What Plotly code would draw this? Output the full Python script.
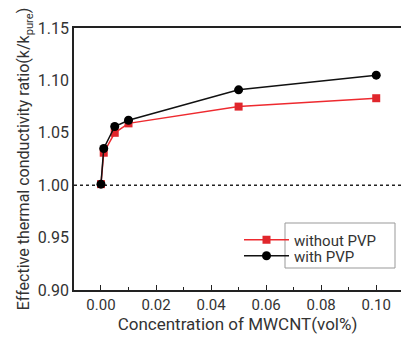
import plotly.graph_objects as go

conc = [0, 0.001, 0.005, 0.01, 0.05, 0.1]
without_pvp = [1.001, 1.031, 1.050, 1.059, 1.075, 1.083]
with_pvp = [1.001, 1.035, 1.056, 1.062, 1.091, 1.105]
names = ["without PVP", "with PVP"]
x_ticks = [0.00, 0.02, 0.04, 0.06, 0.08, 0.10]
y_ticks = [0.90, 0.95, 1.00, 1.05, 1.10, 1.15]

FONT = "Roboto"
TXT = "#333333"
L, T, W, H = 74, 28, 327, 262

fig = go.Figure()
fig.add_trace(go.Scatter(x=conc, y=without_pvp, name=names[0], mode="lines+markers",
                         line=dict(color="#ee2a2f", width=1.5),
                         marker=dict(symbol="square", size=8, color="#e0262c"),
                         legend="legend"))
fig.add_trace(go.Scatter(x=conc, y=with_pvp, name=names[1], mode="lines+markers",
                         line=dict(color="#111111", width=1.5),
                         marker=dict(symbol="circle", size=9, color="#000000"),
                         legend="legend2"))

fig.add_shape(type="line", xref="paper", yref="y", x0=0, x1=1, y0=1.0, y1=1.0,
              line=dict(color="#222222", width=1.5, dash="dot"), layer="below")
# legend box around the text
fig.add_shape(type="rect", xref="paper", yref="paper", x0=(285-L)/W, x1=(395-L)/W,
              y0=(T+H-268)/H, y1=(T+H-223)/H, line=dict(color="#999999", width=1))

leg_common = dict(xanchor="left", yanchor="middle", bgcolor="rgba(0,0,0,0)",
                  font=dict(size=15, color=TXT, family=FONT), itemwidth=45,
                  borderwidth=0)

fig.update_layout(
    width=401, height=340,
    margin=dict(l=L, r=0, t=T, b=340 - T - H),
    paper_bgcolor="white", plot_bgcolor="white",
    font=dict(family=FONT, color=TXT, size=14),
    showlegend=True,
    legend=dict(x=(239-L)/W, y=(T+H-240)/H, **leg_common),
    legend2=dict(x=(239-L)/W, y=(T+H-256)/H, **leg_common),
    xaxis=dict(range=[-0.0098, 0.109], tickvals=x_ticks, ticktext=[f"{v:.2f}" for v in x_ticks],
               ticks="inside", ticklen=5, tickcolor="#222", showline=True, linecolor="#222",
               linewidth=1.5, mirror=True, showgrid=False, zeroline=False, automargin=False,
               minor=dict(dtick=0.01, tick0=0, ticks="inside", ticklen=3, tickcolor="#222", showgrid=False),
               tickfont=dict(size=15), title=dict(text="Concentration of MWCNT(vol%)", font=dict(size=17), standoff=2)),
    yaxis=dict(range=[0.90, 1.15], tickvals=y_ticks, ticktext=[f"{v:.2f}" for v in y_ticks],
               ticks="", showline=True, linecolor="#222", linewidth=1.5, showgrid=False,
               zeroline=False, tickfont=dict(size=16), automargin=False,
               title=dict(text="Effective thermal conductivity ratio(k/k<sub>pure</sub>)", font=dict(size=16), standoff=4)),
)

fig.write_html("out.html", config={"displayModeBar": False},
               post_script="document.body.style.margin='0px';")
